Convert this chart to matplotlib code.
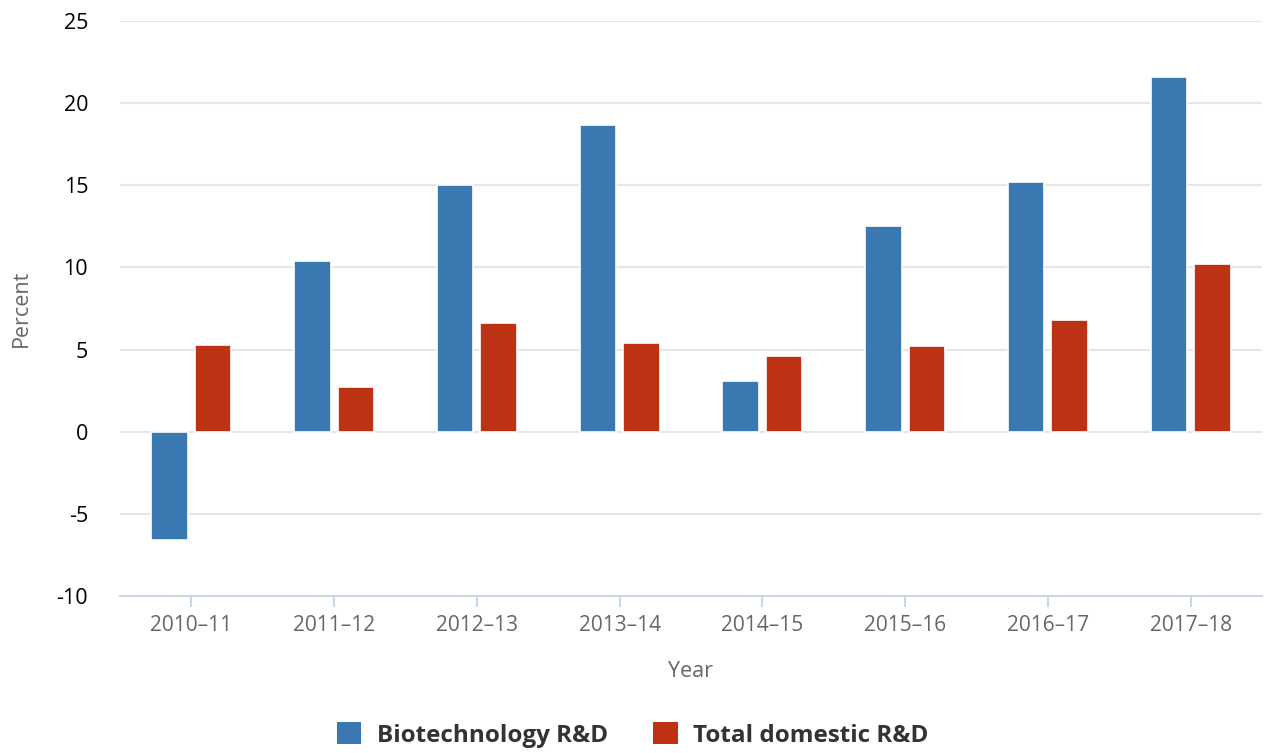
import matplotlib.pyplot as plt
import numpy as np
from matplotlib.patches import Patch

years = ['2010–11', '2011–12', '2012–13', '2013–14', '2014–15', '2015–16', '2016–17', '2017–18']
biotech = [-6.6, 10.4, 15.0, 18.7, 3.1, 12.5, 15.2, 21.6]
total = [5.3, 2.7, 6.6, 5.4, 4.6, 5.2, 6.8, 10.2]
yticks = [-10, -5, 0, 5, 10, 15, 20, 25]

blue = '#3a78b1'
red = '#be3214'

plt.rcParams['font.family'] = ['Open Sans', 'DejaVu Sans']

fig = plt.figure(figsize=(12.66, 7.53), dpi=100)
ax = fig.add_axes([120 / 1266, 1 - 596 / 753, 1142 / 1266, 575 / 753])

x = np.arange(len(years))
w = 0.255
ax.bar(x - 0.152, biotech, w, color=blue, edgecolor='white', linewidth=1.2, zorder=3)
ax.bar(x + 0.152, total, w, color=red, edgecolor='white', linewidth=1.2, zorder=3)

ax.set_xlim(-0.5, len(years) - 0.5)
ax.set_ylim(-10, 25)
ax.set_yticks(yticks)
ax.set_yticklabels([str(v) for v in yticks])  # plain hyphen like the original
ax.yaxis.grid(True, color='#e6e6e6', linewidth=1.5, zorder=0)
ax.set_axisbelow(True)

for s in ['top', 'right', 'left']:
    ax.spines[s].set_visible(False)
ax.spines['bottom'].set_color('#ccd6eb')
ax.spines['bottom'].set_linewidth(1.5)
ax.spines['bottom'].set_zorder(4)

ax.set_xticks(x)
ax.set_xticklabels(years)
ax.tick_params(axis='x', colors='#ccd6eb', length=8, width=1.5, labelcolor='#666666',
               labelsize=15, pad=6)
ax.tick_params(axis='y', length=0, labelcolor='#000000', labelsize=15.5, pad=23)

ax.set_xlabel('Year', fontsize=15.5, color='#666666', labelpad=18)
ax.set_ylabel('Percent', fontsize=15.5, color='#666666')
ax.yaxis.set_label_coords(-88 / 1142, 0.5)

handles = [Patch(facecolor=blue, label='Biotechnology R&D'),
           Patch(facecolor=red, label='Total domestic R&D')]
fig.legend(handles=handles, loc='center', bbox_to_anchor=(0.5, 1 - 735 / 753), ncol=2,
           frameon=False, prop={'weight': 'bold', 'size': 17.5}, labelcolor='#333333',
           handlelength=1.0, handleheight=1.0, handletextpad=0.65, columnspacing=1.85)

fig.savefig('out.png', dpi=100)
